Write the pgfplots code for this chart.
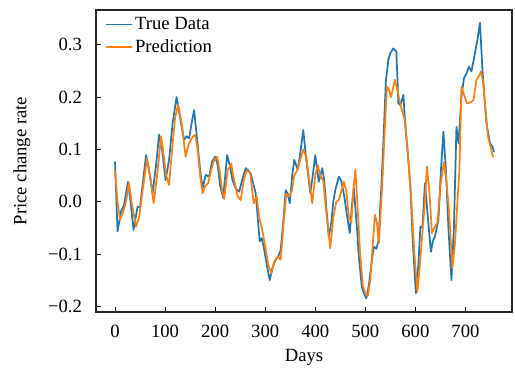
\documentclass[border=0pt]{standalone}
\usepackage{fontspec}
\setmainfont{Liberation Serif}
\usepackage{pgfplots}
\pgfplotsset{compat=1.18}
\definecolor{tblue}{HTML}{1F77B4}
\definecolor{torange}{HTML}{FF7F0E}
\begin{document}
\begin{tikzpicture}
\begin{axis}[
  name=ax,
  scale only axis,
  width=312pt, height=226.5pt,
  xmin=-38, xmax=793,
  ymin=-0.211, ymax=0.3665,
  xtick={0,100,200,300,400,500,600,700},
  xticklabels={0,100,200,300,400,500,600,700},
  ytick={-0.2,-0.1,0,0.1,0.2,0.3},
  yticklabels={−0.2,−0.1,0.0,0.1,0.2,0.3},
  tick pos=left,
  tick align=inside,
  major tick length=3.75pt,
  tick style={black, line width=0.6pt},
  axis line style={black!85, line width=0.8pt},
  ticklabel style={font=\fontsize{14}{16}\selectfont},
  xticklabel style={yshift=-6pt},
  yticklabel style={xshift=-7pt},
  xlabel={Days},
  ylabel={Price change rate},
  every axis x label/.style={at={(axis description cs:0.5,0)}, anchor=center, yshift=-33.75pt, font=\fontsize{14}{16}\selectfont},
  every axis y label/.style={at={(axis description cs:-0.178,0.5)}, anchor=center, rotate=90, font=\fontsize{14}{16}\selectfont},
  legend style={draw=none, fill=none, at={(0.02,0.99)}, anchor=north west,
    font=\fontsize{14}{16}\selectfont, row sep=2pt, inner sep=1pt},
  legend cell align=left,
  legend image code/.code={\draw[#1, line width=0.9pt] (0pt,0pt) -- (19pt,0pt);},
  every axis plot/.append style={line join=round, line cap=round},
]
\addplot[tblue, line width=1.3pt] coordinates {
(0,0.076) (5,-0.057) (12,-0.019) (18,-0.006) (26,0.038) (31,0.000) (37,-0.054)
(45,-0.010) (50,-0.010) (56,0.040) (62,0.089) (68,0.060) (75,0.016) (82,0.070)
(88,0.128) (94,0.100) (101,0.041) (108,0.080) (115,0.150) (123,0.200) (130,0.160)
(138,0.118) (143,0.125) (148,0.121) (153,0.150) (158,0.175) (165,0.110) (170,0.060)
(175,0.026) (181,0.051) (188,0.048) (194,0.077) (200,0.086) (205,0.070) (210,0.030)
(216,0.007) (224,0.089) (229,0.070) (235,0.040) (241,0.025) (248,0.019) (255,0.045)
(261,0.064) (266,0.060) (271,0.054) (276,0.035) (281,0.016) (285,-0.030) (289,-0.076)
(293,-0.070) (297,-0.086) (303,-0.120) (309,-0.150) (315,-0.125) (321,-0.111) (326,-0.105)
(331,-0.092) (336,-0.040) (341,0.022) (345,0.015) (349,-0.003) (354,0.050) (358,0.080)
(365,0.061) (371,0.100) (376,0.137) (382,0.080) (386,0.050) (390,0.016) (395,0.050)
(400,0.089) (404,0.060) (407,0.038) (414,0.064) (418,0.040) (422,-0.010) (427,-0.067)
(432,-0.040) (436,0.000) (440,0.022) (447,0.048) (452,0.040) (458,0.010) (464,-0.030)
(469,-0.060) (473,-0.010) (477,0.026) (480,-0.010) (484,-0.060) (487,-0.105) (493,-0.163)
(497,-0.175) (502,-0.185) (507,-0.160) (512,-0.120) (517,-0.086) (522,-0.090) (526,-0.076)
(531,0.010) (536,0.112) (541,0.230) (546,0.271) (550,0.284) (556,0.293) (562,0.287)
(566,0.188) (570,0.185) (576,0.204) (580,0.143) (585,0.090) (590,0.029) (595,-0.080)
(601,-0.175) (606,-0.120) (610,-0.048) (614,-0.050) (619,0.035) (624,-0.020) (631,-0.096)
(635,-0.075) (639,-0.067) (646,-0.035) (651,0.060) (656,0.134) (661,0.060) (666,-0.051)
(672,-0.150) (677,-0.050) (682,0.143) (686,0.112) (692,0.200) (697,0.236) (702,0.245)
(707,0.258) (712,0.249) (719,0.284) (724,0.310) (729,0.342) (734,0.252) (738,0.200)
(742,0.150) (749,0.112) (754,0.105) (757,0.096)
};
\addlegendentry{True Data}
\addplot[torange, line width=1.3pt] coordinates {
(0,0.059) (5,0.000) (10,-0.035) (16,-0.020) (22,0.000) (28,0.036) (33,0.000) (42,-0.048)
(48,-0.030) (55,0.020) (64,0.083) (70,0.050) (77,-0.003) (84,0.050) (92,0.125) (97,0.090)
(102,0.050) (108,0.032) (114,0.100) (120,0.160) (126,0.185) (133,0.150) (141,0.086)
(147,0.110) (155,0.124) (160,0.128) (165,0.100) (170,0.050) (175,0.016) (180,0.030)
(186,0.035) (192,0.060) (198,0.080) (204,0.086) (209,0.060) (214,0.020) (218,0.005)
(225,0.060) (232,0.073) (238,0.040) (245,0.010) (251,0.003) (257,0.040) (263,0.060)
(270,0.055) (277,-0.003) (283,0.010) (288,-0.030) (294,-0.054) (300,-0.085) (306,-0.120)
(312,-0.137) (318,-0.115) (325,-0.105) (331,-0.111) (336,-0.050) (342,0.015) (348,0.010)
(353,0.020) (358,0.050) (364,0.060) (370,0.080) (376,0.100) (382,0.086) (388,0.040)
(394,-0.003) (400,0.050) (405,0.070) (410,0.050) (416,0.040) (422,-0.020) (430,-0.089)
(436,-0.030) (442,0.000) (447,0.003) (452,0.020) (457,0.038) (462,0.020) (467,-0.030)
(472,-0.040) (476,0.020) (480,0.061) (484,0.000) (489,-0.090) (495,-0.160) (500,-0.175)
(505,-0.180) (510,-0.150) (515,-0.080) (519,-0.025) (523,-0.040) (527,-0.080) (532,0.000)
(537,0.100) (543,0.220) (547,0.215) (551,0.200) (555,0.215) (559,0.233) (565,0.210)
(570,0.185) (575,0.170) (580,0.150) (586,0.080) (592,0.000) (598,-0.100) (604,-0.172)
(609,-0.120) (614,-0.060) (619,0.000) (623,0.067) (628,0.020) (633,-0.060) (638,-0.050)
(644,-0.040) (650,0.030) (657,0.076) (662,0.040) (667,-0.016) (674,-0.127) (679,-0.080)
(684,0.000) (688,0.061) (692,0.220) (697,0.205) (703,0.188) (710,0.190) (716,0.194)
(722,0.233) (727,0.240) (731,0.249) (735,0.230) (739,0.188) (745,0.124) (750,0.105)
(755,0.086)
};
\addlegendentry{Prediction}
\end{axis}
\pgfresetboundingbox
\path (ax.south west) ++(-72pt,-48pt) coordinate (bl);
\path (ax.north east) ++(2.25pt,7.5pt) coordinate (tr);
\path (bl) rectangle (tr);
\end{tikzpicture}
\end{document}
